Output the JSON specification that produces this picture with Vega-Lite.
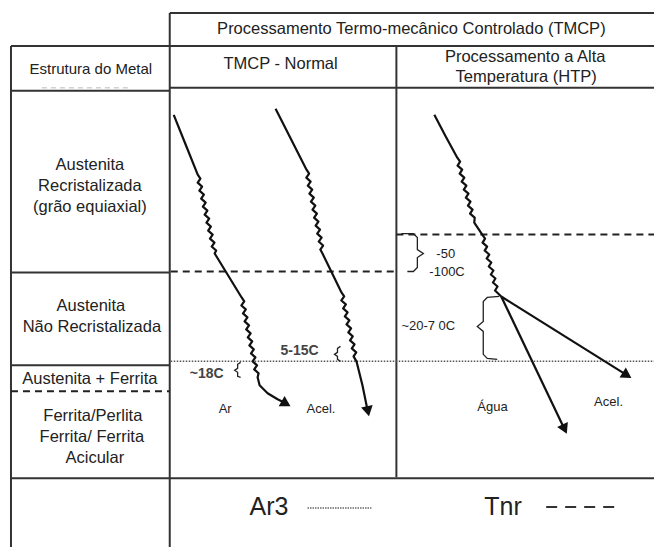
{
  "$schema": "https://vega.github.io/schema/vega-lite/v6.json",
  "width": 655,
  "height": 548,
  "autosize": {"type": "fit", "contains": "padding"},
  "padding": 0,
  "background": "white",
  "config": {"view": {"stroke": null}},
  "datasets": {
    "segs": [
      {"kind": "grid", "x": 170, "y": 13, "x2": 655, "y2": 13},
      {"kind": "grid", "x": 170, "y": 13, "x2": 170, "y2": 548},
      {"kind": "grid", "x": 11, "y": 46, "x2": 655, "y2": 46},
      {"kind": "grid", "x": 11, "y": 46, "x2": 11, "y2": 548},
      {"kind": "grid", "x": 11, "y": 91, "x2": 170, "y2": 91},
      {"kind": "grid", "x": 170, "y": 88, "x2": 655, "y2": 88},
      {"kind": "grid", "x": 397, "y": 46, "x2": 397, "y2": 478},
      {"kind": "grid", "x": 11, "y": 273, "x2": 170, "y2": 273},
      {"kind": "grid", "x": 11, "y": 366, "x2": 170, "y2": 366},
      {"kind": "grid", "x": 11, "y": 479, "x2": 655, "y2": 479},
      {"kind": "tnr", "x": 11, "y": 392, "x2": 170, "y2": 392},
      {"kind": "tnr", "x": 171, "y": 272, "x2": 397, "y2": 272},
      {"kind": "tnr", "x": 397, "y": 235, "x2": 655, "y2": 235},
      {"kind": "ar3", "x": 171, "y": 362, "x2": 655, "y2": 362},
      {"kind": "faint", "x": 42, "y": 88, "x2": 128, "y2": 88},
      {"kind": "tnrkey", "x": 547, "y": 508, "x2": 616, "y2": 508},
      {"kind": "ar3key", "x": 308, "y": 509, "x2": 372, "y2": 509}
    ],
    "paths": [
      {"id": "c1", "ord": 0, "x": 174, "y": 115},
      {"id": "c1", "ord": 1, "x": 186, "y": 145},
      {"id": "c1", "ord": 2, "x": 198, "y": 175},
      {"id": "c1", "ord": 3, "x": 200.7, "y": 179},
      {"id": "c1", "ord": 4, "x": 198.0, "y": 183},
      {"id": "c1", "ord": 5, "x": 202.4, "y": 187},
      {"id": "c1", "ord": 6, "x": 199.7, "y": 191},
      {"id": "c1", "ord": 7, "x": 204.2, "y": 195},
      {"id": "c1", "ord": 8, "x": 201.5, "y": 199},
      {"id": "c1", "ord": 9, "x": 206.0, "y": 203},
      {"id": "c1", "ord": 10, "x": 203.2, "y": 207},
      {"id": "c1", "ord": 11, "x": 207.7, "y": 211},
      {"id": "c1", "ord": 12, "x": 205.0, "y": 215},
      {"id": "c1", "ord": 13, "x": 209.5, "y": 219},
      {"id": "c1", "ord": 14, "x": 206.8, "y": 223},
      {"id": "c1", "ord": 15, "x": 211.2, "y": 227},
      {"id": "c1", "ord": 16, "x": 208.5, "y": 231},
      {"id": "c1", "ord": 17, "x": 213.0, "y": 235},
      {"id": "c1", "ord": 18, "x": 210.3, "y": 239},
      {"id": "c1", "ord": 19, "x": 214.8, "y": 243},
      {"id": "c1", "ord": 20, "x": 212.0, "y": 247},
      {"id": "c1", "ord": 21, "x": 216.5, "y": 251},
      {"id": "c1", "ord": 22, "x": 215, "y": 254},
      {"id": "c1", "ord": 23, "x": 242, "y": 298},
      {"id": "c1", "ord": 24, "x": 244.6, "y": 302},
      {"id": "c1", "ord": 25, "x": 241.8, "y": 306},
      {"id": "c1", "ord": 26, "x": 246.2, "y": 310},
      {"id": "c1", "ord": 27, "x": 243.4, "y": 314},
      {"id": "c1", "ord": 28, "x": 247.8, "y": 318},
      {"id": "c1", "ord": 29, "x": 245.0, "y": 322},
      {"id": "c1", "ord": 30, "x": 249.4, "y": 326},
      {"id": "c1", "ord": 31, "x": 246.6, "y": 330},
      {"id": "c1", "ord": 32, "x": 251.0, "y": 334},
      {"id": "c1", "ord": 33, "x": 248.2, "y": 338},
      {"id": "c1", "ord": 34, "x": 252.6, "y": 342},
      {"id": "c1", "ord": 35, "x": 249.8, "y": 346},
      {"id": "c1", "ord": 36, "x": 254.2, "y": 350},
      {"id": "c1", "ord": 37, "x": 251.4, "y": 354},
      {"id": "c1", "ord": 38, "x": 255.8, "y": 358},
      {"id": "c1", "ord": 39, "x": 253.0, "y": 362},
      {"id": "c1", "ord": 40, "x": 257.4, "y": 366},
      {"id": "c1", "ord": 41, "x": 254.6, "y": 370},
      {"id": "c1", "ord": 42, "x": 259.0, "y": 374},
      {"id": "c1", "ord": 43, "x": 258, "y": 378},
      {"id": "c1", "ord": 44, "x": 260, "y": 386},
      {"id": "c1", "ord": 45, "x": 268, "y": 394},
      {"id": "c1", "ord": 46, "x": 278, "y": 400},
      {"id": "c1", "ord": 47, "x": 284, "y": 403},
      {"id": "c2", "ord": 0, "x": 276, "y": 109},
      {"id": "c2", "ord": 1, "x": 307, "y": 170},
      {"id": "c2", "ord": 2, "x": 309.6, "y": 174},
      {"id": "c2", "ord": 3, "x": 306.8, "y": 178},
      {"id": "c2", "ord": 4, "x": 311.1, "y": 182},
      {"id": "c2", "ord": 5, "x": 308.3, "y": 186},
      {"id": "c2", "ord": 6, "x": 312.7, "y": 190},
      {"id": "c2", "ord": 7, "x": 309.9, "y": 194},
      {"id": "c2", "ord": 8, "x": 314.3, "y": 198},
      {"id": "c2", "ord": 9, "x": 311.4, "y": 202},
      {"id": "c2", "ord": 10, "x": 315.8, "y": 206},
      {"id": "c2", "ord": 11, "x": 313.0, "y": 210},
      {"id": "c2", "ord": 12, "x": 317.4, "y": 214},
      {"id": "c2", "ord": 13, "x": 314.6, "y": 218},
      {"id": "c2", "ord": 14, "x": 318.9, "y": 222},
      {"id": "c2", "ord": 15, "x": 316.1, "y": 226},
      {"id": "c2", "ord": 16, "x": 320.5, "y": 230},
      {"id": "c2", "ord": 17, "x": 317.7, "y": 234},
      {"id": "c2", "ord": 18, "x": 322.1, "y": 238},
      {"id": "c2", "ord": 19, "x": 319.2, "y": 242},
      {"id": "c2", "ord": 20, "x": 323.6, "y": 246},
      {"id": "c2", "ord": 21, "x": 320.8, "y": 250},
      {"id": "c2", "ord": 22, "x": 323, "y": 254},
      {"id": "c2", "ord": 23, "x": 342, "y": 293},
      {"id": "c2", "ord": 24, "x": 344.7, "y": 297},
      {"id": "c2", "ord": 25, "x": 341.9, "y": 301},
      {"id": "c2", "ord": 26, "x": 346.4, "y": 305},
      {"id": "c2", "ord": 27, "x": 343.7, "y": 309},
      {"id": "c2", "ord": 28, "x": 348.1, "y": 313},
      {"id": "c2", "ord": 29, "x": 345.4, "y": 317},
      {"id": "c2", "ord": 30, "x": 349.9, "y": 321},
      {"id": "c2", "ord": 31, "x": 347.1, "y": 325},
      {"id": "c2", "ord": 32, "x": 351.6, "y": 329},
      {"id": "c2", "ord": 33, "x": 348.9, "y": 333},
      {"id": "c2", "ord": 34, "x": 353.3, "y": 337},
      {"id": "c2", "ord": 35, "x": 350.6, "y": 341},
      {"id": "c2", "ord": 36, "x": 355.1, "y": 345},
      {"id": "c2", "ord": 37, "x": 352.3, "y": 349},
      {"id": "c2", "ord": 38, "x": 356.8, "y": 353},
      {"id": "c2", "ord": 39, "x": 354.1, "y": 357},
      {"id": "c2", "ord": 40, "x": 357, "y": 362},
      {"id": "c2", "ord": 41, "x": 363, "y": 386},
      {"id": "c2", "ord": 42, "x": 367.5, "y": 408},
      {"id": "h", "ord": 0, "x": 435, "y": 115},
      {"id": "h", "ord": 1, "x": 446, "y": 136},
      {"id": "h", "ord": 2, "x": 458, "y": 158},
      {"id": "h", "ord": 3, "x": 460.8, "y": 162},
      {"id": "h", "ord": 4, "x": 458.3, "y": 166},
      {"id": "h", "ord": 5, "x": 462.9, "y": 170},
      {"id": "h", "ord": 6, "x": 460.4, "y": 174},
      {"id": "h", "ord": 7, "x": 465.0, "y": 178},
      {"id": "h", "ord": 8, "x": 462.4, "y": 182},
      {"id": "h", "ord": 9, "x": 467.1, "y": 186},
      {"id": "h", "ord": 10, "x": 464.5, "y": 190},
      {"id": "h", "ord": 11, "x": 469.2, "y": 194},
      {"id": "h", "ord": 12, "x": 466.6, "y": 198},
      {"id": "h", "ord": 13, "x": 471.2, "y": 202},
      {"id": "h", "ord": 14, "x": 468.7, "y": 206},
      {"id": "h", "ord": 15, "x": 473.3, "y": 210},
      {"id": "h", "ord": 16, "x": 470.8, "y": 214},
      {"id": "h", "ord": 17, "x": 475.4, "y": 218},
      {"id": "h", "ord": 18, "x": 475, "y": 223},
      {"id": "h", "ord": 19, "x": 483, "y": 235},
      {"id": "h", "ord": 20, "x": 485.8, "y": 239},
      {"id": "h", "ord": 21, "x": 483.3, "y": 243},
      {"id": "h", "ord": 22, "x": 487.9, "y": 247},
      {"id": "h", "ord": 23, "x": 485.4, "y": 251},
      {"id": "h", "ord": 24, "x": 490.0, "y": 255},
      {"id": "h", "ord": 25, "x": 487.4, "y": 259},
      {"id": "h", "ord": 26, "x": 492.1, "y": 263},
      {"id": "h", "ord": 27, "x": 489.5, "y": 267},
      {"id": "h", "ord": 28, "x": 494.2, "y": 271},
      {"id": "h", "ord": 29, "x": 491.6, "y": 275},
      {"id": "h", "ord": 30, "x": 496.2, "y": 279},
      {"id": "h", "ord": 31, "x": 493.7, "y": 283},
      {"id": "h", "ord": 32, "x": 498.3, "y": 287},
      {"id": "h", "ord": 33, "x": 495.8, "y": 291},
      {"id": "h", "ord": 34, "x": 502, "y": 297},
      {"id": "hw", "ord": 0, "x": 502, "y": 297},
      {"id": "hw", "ord": 1, "x": 564, "y": 427},
      {"id": "ha", "ord": 0, "x": 502, "y": 297},
      {"id": "ha", "ord": 1, "x": 625, "y": 374},
      {"id": "b1", "ord": 0, "x": 241, "y": 363},
      {"id": "b1", "ord": 1, "x": 238, "y": 365},
      {"id": "b1", "ord": 2, "x": 238, "y": 369},
      {"id": "b1", "ord": 3, "x": 235, "y": 371},
      {"id": "b1", "ord": 4, "x": 238, "y": 373},
      {"id": "b1", "ord": 5, "x": 238, "y": 377},
      {"id": "b1", "ord": 6, "x": 241, "y": 378},
      {"id": "b2", "ord": 0, "x": 341, "y": 347},
      {"id": "b2", "ord": 1, "x": 338, "y": 349},
      {"id": "b2", "ord": 2, "x": 338, "y": 353},
      {"id": "b2", "ord": 3, "x": 335, "y": 355},
      {"id": "b2", "ord": 4, "x": 338, "y": 357},
      {"id": "b2", "ord": 5, "x": 338, "y": 360},
      {"id": "b2", "ord": 6, "x": 341, "y": 362},
      {"id": "b3", "ord": 0, "x": 402, "y": 234},
      {"id": "b3", "ord": 1, "x": 414, "y": 234},
      {"id": "b3", "ord": 2, "x": 418, "y": 238},
      {"id": "b3", "ord": 3, "x": 418, "y": 250},
      {"id": "b3", "ord": 4, "x": 424, "y": 254},
      {"id": "b3", "ord": 5, "x": 418, "y": 258},
      {"id": "b3", "ord": 6, "x": 418, "y": 268},
      {"id": "b3", "ord": 7, "x": 414, "y": 272},
      {"id": "b3", "ord": 8, "x": 408, "y": 272},
      {"id": "b4", "ord": 0, "x": 500, "y": 297},
      {"id": "b4", "ord": 1, "x": 488, "y": 298},
      {"id": "b4", "ord": 2, "x": 484, "y": 302},
      {"id": "b4", "ord": 3, "x": 484, "y": 322},
      {"id": "b4", "ord": 4, "x": 478, "y": 327},
      {"id": "b4", "ord": 5, "x": 484, "y": 332},
      {"id": "b4", "ord": 6, "x": 484, "y": 355},
      {"id": "b4", "ord": 7, "x": 488, "y": 359},
      {"id": "b4", "ord": 8, "x": 498, "y": 360}
    ],
    "tips": [
      {"id": "c1", "x": 286.5, "y": 404.5},
      {"id": "c2", "x": 368.5, "y": 412},
      {"id": "hw", "x": 565.5, "y": 430},
      {"id": "ha", "x": 628, "y": 376}
    ],
    "labels": [
      {"role": "title", "text": "Processamento Termo-mecânico Controlado (TMCP)", "x": 412, "y": 29},
      {"role": "head", "text": "TMCP - Normal", "x": 281, "y": 64},
      {"role": "head", "text": "Processamento a Alta", "x": 526, "y": 57},
      {"role": "head", "text": "Temperatura (HTP)", "x": 527, "y": 77},
      {"role": "estrutura", "text": "Estrutura do Metal", "x": 91, "y": 69},
      {"role": "phase", "text": "Austenita", "x": 90, "y": 165},
      {"role": "phase", "text": "Recristalizada", "x": 90, "y": 186},
      {"role": "phase", "text": "(grão equiaxial)", "x": 90, "y": 207},
      {"role": "phase", "text": "Austenita", "x": 91, "y": 307},
      {"role": "phase", "text": "Não Recristalizada", "x": 92, "y": 328},
      {"role": "phase", "text": "Austenita + Ferrita", "x": 90, "y": 380},
      {"role": "phase", "text": "Ferrita/Perlita", "x": 93, "y": 417},
      {"role": "phase", "text": "Ferrita/ Ferrita", "x": 92, "y": 438},
      {"role": "phase", "text": "Acicular", "x": 95, "y": 459},
      {"role": "noteb", "text": "~18C", "x": 190, "y": 375},
      {"role": "noteb", "text": "5-15C", "x": 281, "y": 352},
      {"role": "note", "text": "Ar", "x": 219, "y": 410},
      {"role": "note", "text": "Acel.", "x": 307, "y": 410},
      {"role": "note", "text": "-50", "x": 437, "y": 254},
      {"role": "note", "text": "-100C", "x": 430, "y": 272},
      {"role": "note", "text": "~20-7 0C", "x": 402, "y": 327},
      {"role": "note", "text": "Água", "x": 478, "y": 408},
      {"role": "note", "text": "Acel.", "x": 595, "y": 403},
      {"role": "key", "text": "Ar3", "x": 250, "y": 508},
      {"role": "key", "text": "Tnr", "x": 485, "y": 508}
    ]
  },
  "encoding": {
    "x": {"field": "x", "type": "quantitative", "scale": {"domain": [0, 655], "nice": false, "zero": false}, "axis": null},
    "y": {"field": "y", "type": "quantitative", "scale": {"domain": [0, 548], "nice": false, "zero": false, "reverse": true}, "axis": null}
  },
  "layer": [
    {"data": {"name": "segs"}, "transform": [{"filter": "datum.kind === 'grid'"}],
     "mark": {"type": "rule", "stroke": "#333333", "strokeWidth": 2},
     "encoding": {"x2": {"field": "x2"}, "y2": {"field": "y2"}}},
    {"data": {"name": "segs"}, "transform": [{"filter": "datum.kind === 'tnr'"}],
     "mark": {"type": "rule", "stroke": "#222222", "strokeWidth": 2, "strokeDash": [7, 5]},
     "encoding": {"x2": {"field": "x2"}, "y2": {"field": "y2"}}},
    {"data": {"name": "segs"}, "transform": [{"filter": "datum.kind === 'ar3'"}],
     "mark": {"type": "rule", "stroke": "#555555", "strokeWidth": 1.5, "strokeDash": [1.5, 1.5]},
     "encoding": {"x2": {"field": "x2"}, "y2": {"field": "y2"}}},
    {"data": {"name": "segs"}, "transform": [{"filter": "datum.kind === 'faint'"}],
     "mark": {"type": "rule", "stroke": "#bbbbbb", "strokeWidth": 1, "strokeDash": [5, 4]},
     "encoding": {"x2": {"field": "x2"}, "y2": {"field": "y2"}}},
    {"data": {"name": "segs"}, "transform": [{"filter": "datum.kind === 'tnrkey'"}],
     "mark": {"type": "rule", "stroke": "#333333", "strokeWidth": 2, "strokeDash": [11, 8]},
     "encoding": {"x2": {"field": "x2"}, "y2": {"field": "y2"}}},
    {"data": {"name": "segs"}, "transform": [{"filter": "datum.kind === 'ar3key'"}],
     "mark": {"type": "rule", "stroke": "#666666", "strokeWidth": 1.5, "strokeDash": [1.5, 1]},
     "encoding": {"x2": {"field": "x2"}, "y2": {"field": "y2"}}},
    {"data": {"name": "paths"}, "transform": [{"filter": "indexof(['c1','c2','h','hw','ha'], datum.id) >= 0"}],
     "mark": {"type": "line", "stroke": "#111111", "strokeWidth": 2.2, "strokeJoin": "round"},
     "encoding": {"detail": {"field": "id"}, "order": {"field": "ord", "type": "quantitative"}}},
    {"data": {"name": "paths"}, "transform": [{"filter": "indexof(['b1','b2','b3','b4'], datum.id) >= 0"}],
     "mark": {"type": "line", "stroke": "#222222", "strokeWidth": 1.3},
     "encoding": {"detail": {"field": "id"}, "order": {"field": "ord", "type": "quantitative"}}},
    {"data": {"name": "tips"}, "transform": [{"filter": "datum.id === 'c1'"}],
     "mark": {"type": "point", "shape": "triangle-up", "filled": true, "color": "#111111", "size": 140, "angle": 120, "opacity": 1}},
    {"data": {"name": "tips"}, "transform": [{"filter": "datum.id === 'c2'"}],
     "mark": {"type": "point", "shape": "triangle-up", "filled": true, "color": "#111111", "size": 140, "angle": 168, "opacity": 1}},
    {"data": {"name": "tips"}, "transform": [{"filter": "datum.id === 'hw'"}],
     "mark": {"type": "point", "shape": "triangle-up", "filled": true, "color": "#111111", "size": 140, "angle": 155, "opacity": 1}},
    {"data": {"name": "tips"}, "transform": [{"filter": "datum.id === 'ha'"}],
     "mark": {"type": "point", "shape": "triangle-up", "filled": true, "color": "#111111", "size": 140, "angle": 122, "opacity": 1}},
    {"data": {"name": "labels"}, "transform": [{"filter": "datum.role === 'title' || datum.role === 'head'"}],
     "mark": {"type": "text", "font": "Liberation Sans", "fontSize": 16.5, "color": "#222222", "align": "center", "baseline": "middle"},
     "encoding": {"text": {"field": "text"}}},
    {"data": {"name": "labels"}, "transform": [{"filter": "datum.role === 'estrutura'"}],
     "mark": {"type": "text", "font": "Liberation Sans", "fontSize": 15, "color": "#222222", "align": "center", "baseline": "middle"},
     "encoding": {"text": {"field": "text"}}},
    {"data": {"name": "labels"}, "transform": [{"filter": "datum.role === 'phase'"}],
     "mark": {"type": "text", "font": "Liberation Sans", "fontSize": 16.5, "color": "#222222", "align": "center", "baseline": "middle"},
     "encoding": {"text": {"field": "text"}}},
    {"data": {"name": "labels"}, "transform": [{"filter": "datum.role === 'note'"}],
     "mark": {"type": "text", "font": "Liberation Sans", "fontSize": 13, "color": "#222222", "align": "left", "baseline": "middle"},
     "encoding": {"text": {"field": "text"}}},
    {"data": {"name": "labels"}, "transform": [{"filter": "datum.role === 'noteb'"}],
     "mark": {"type": "text", "font": "Liberation Sans", "fontSize": 14, "fontWeight": "bold", "color": "#444444", "align": "left", "baseline": "middle"},
     "encoding": {"text": {"field": "text"}}},
    {"data": {"name": "labels"}, "transform": [{"filter": "datum.role === 'key'"}],
     "mark": {"type": "text", "font": "Liberation Sans", "fontSize": 25, "color": "#222222", "align": "left", "baseline": "middle"},
     "encoding": {"text": {"field": "text"}}}
  ]
}
